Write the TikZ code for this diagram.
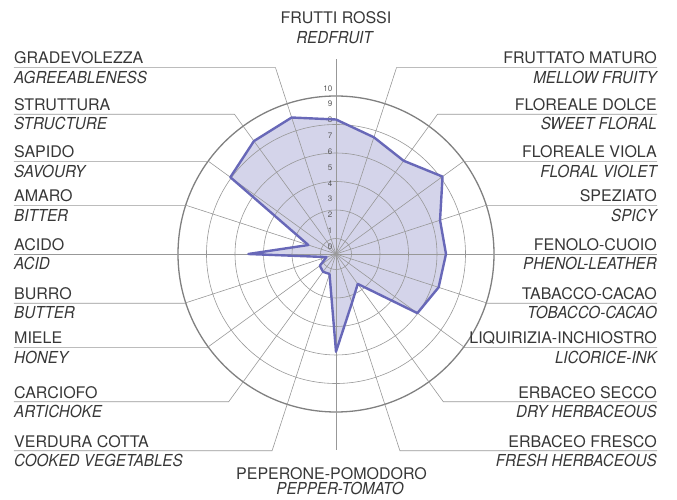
\documentclass[tikz,border=0pt]{standalone}
\usepackage{fontspec}
\setmainfont{TeX Gyre Heros}
\newfontfamily\engfont[FakeStretch=0.92]{TeX Gyre Heros}
\definecolor{gridgray}{RGB}{152,152,152}
\definecolor{rimgray}{RGB}{128,128,128}
\definecolor{labelgray}{RGB}{55,55,55}
\definecolor{plotline}{RGB}{104,104,184}
\definecolor{plotfill}{RGB}{212,212,234}
\begin{document}
\begin{tikzpicture}[x=1pt,y=1pt,
		grid/.style={gridgray, line width=0.6pt},
		rim/.style={rimgray, line width=1.3pt},
		ita/.style={labelgray, inner sep=0pt, font=\fontsize{16}{16}\selectfont},
		eng/.style={labelgray, inner sep=0pt, font=\fontsize{16.5}{16.5}\selectfont\engfont\itshape},
		tick/.style={black!65, inner sep=0pt, anchor=east, font=\fontsize{8}{8}\selectfont}]
		\useasboundingbox (-336,-246) rectangle (341,254);
		% profile area
		\fill [plotfill] (90:134.5) -- (72:122.7) -- (54:115.2) -- (36:131.7) -- (18:109.4) -- (0:110)
			-- (-18:107.9) -- (-36:100.6) -- (-54:37) -- (-72:51.5) -- (-90:97.7) -- (-108:21)
			-- (-126:22) -- (-144:20) -- (-162:10) -- (180:87.7) -- (162:29.1) -- (144:130.6)
			-- (126:139.6) -- (108:143.5) -- cycle;
		% rings
		\foreach \r in {15.5,44,72.5,101,129.5}
			\draw [grid] (0,0) circle (\r pt);
		\draw [rim] (0,0) circle (158pt);
		% spokes and leaders, right
		\draw [grid] (0,0) -- (0,195);
		\draw [grid] (0,0) -- (60.5,186.3) -- (321,186.3);
		\draw [grid] (0,0) -- (101.5,139.7) -- (321,139.7);
		\draw [grid] (0,0) -- (127.0,92.3) -- (321,92.3);
		\draw [grid] (0,0) -- (148.7,48.3) -- (321,48.3);
		\draw [grid] (0,0) -- (321,0);
		\draw [grid] (0,0) -- (151.7,-49.3) -- (321,-49.3);
		\draw [grid] (0,0) -- (129.0,-93.7) -- (321,-93.7);
		\draw [grid] (0,0) -- (107.3,-147.7) -- (321,-147.7);
		\draw [grid] (0,0) -- (63.9,-196.7) -- (321,-196.7);
		\draw [grid] (0,0) -- (0,-196);
		% spokes and leaders, left
		\draw [grid] (0,0) -- (-60.5,186.3) -- (-322,186.3);
		\draw [grid] (0,0) -- (-101.5,139.7) -- (-322,139.7);
		\draw [grid] (0,0) -- (-127.0,92.3) -- (-322,92.3);
		\draw [grid] (0,0) -- (-148.7,48.3) -- (-322,48.3);
		\draw [grid] (0,0) -- (-322,0);
		\draw [grid] (0,0) -- (-151.7,-49.3) -- (-322,-49.3);
		\draw [grid] (0,0) -- (-129.0,-93.7) -- (-322,-93.7);
		\draw [grid] (0,0) -- (-107.3,-147.7) -- (-322,-147.7);
		\draw [grid] (0,0) -- (-63.9,-196.7) -- (-322,-196.7);
		% scale
		\foreach \v in {0,...,10}
			\node [tick] (tick\v) at (-3.5,{7.3+15.84*\v}) {\v};
		% profile outline
		\draw [plotline, line width=2.4pt, line join=round] (90:134.5) -- (72:122.7) -- (54:115.2)
			-- (36:131.7) -- (18:109.4) -- (0:110) -- (-18:107.9) -- (-36:100.6) -- (-54:37)
			-- (-72:51.5) -- (-90:97.7) -- (-108:21) -- (-126:22) -- (-144:20) -- (-162:10)
			-- (180:87.7) -- (162:29.1) -- (144:130.6) -- (126:139.6) -- (108:143.5) -- cycle;
		% top and bottom labels
		\node [ita, anchor=base] (rossi) at (0,230) {FRUTTI ROSSI};
		\node [eng, anchor=base] (redfruit) at (-1.5,210.7) {REDFRUIT};
		\node [ita, anchor=base] (peperone) at (-4.5,-225) {PEPERONE-POMODORO};
		\node [eng, anchor=base] (pepper) at (4,-240) {PEPPER-TOMATO};
		% right labels
		\node [ita, anchor=base east] (maturo) at (321,190.0) {FRUTTATO MATURO};
		\node [eng, anchor=base east] (mellow) at (321,170.6) {MELLOW FRUITY};
		\node [ita, anchor=base east] (dolce) at (321,143.4) {FLOREALE DOLCE};
		\node [eng, anchor=base east] (sweet) at (321,124.0) {SWEET FLORAL};
		\node [ita, anchor=base east] (viola) at (321,96.0) {FLOREALE VIOLA};
		\node [eng, anchor=base east] (violet) at (321,76.6) {FLORAL VIOLET};
		\node [ita, anchor=base east] (speziato) at (321,52.0) {SPEZIATO};
		\node [eng, anchor=base east] (spicy) at (321,32.6) {SPICY};
		\node [ita, anchor=base east] (fenolo) at (321,3.7) {FENOLO-CUOIO};
		\node [eng, anchor=base east] (phenol) at (321,-15.7) {PHENOL-LEATHER};
		\node [ita, anchor=base east] (tabacco) at (321,-45.6) {TABACCO-CACAO};
		\node [eng, anchor=base east] (tobacco) at (321,-65.0) {TOBACCO-CACAO};
		\node [ita, anchor=base east] (liquirizia) at (321,-90.0) {LIQUIRIZIA-INCHIOSTRO};
		\node [eng, anchor=base east] (licorice) at (321,-109.4) {LICORICE-INK};
		\node [ita, anchor=base east] (secco) at (321,-144.0) {ERBACEO SECCO};
		\node [eng, anchor=base east] (dryherb) at (321,-163.4) {DRY HERBACEOUS};
		\node [ita, anchor=base east] (fresco) at (321,-193.0) {ERBACEO FRESCO};
		\node [eng, anchor=base east] (freshherb) at (321,-212.4) {FRESH HERBACEOUS};
		% left labels
		\node [ita, anchor=base west] (gradevolezza) at (-322,190.0) {GRADEVOLEZZA};
		\node [eng, anchor=base west] (agreeable) at (-322,170.6) {AGREEABLENESS};
		\node [ita, anchor=base west] (struttura) at (-322,143.4) {STRUTTURA};
		\node [eng, anchor=base west] (structure) at (-322,124.0) {STRUCTURE};
		\node [ita, anchor=base west] (sapido) at (-322,96.0) {SAPIDO};
		\node [eng, anchor=base west] (savoury) at (-322,76.6) {SAVOURY};
		\node [ita, anchor=base west] (amaro) at (-322,52.0) {AMARO};
		\node [eng, anchor=base west] (bitter) at (-322,32.6) {BITTER};
		\node [ita, anchor=base west] (acido) at (-322,3.7) {ACIDO};
		\node [eng, anchor=base west] (acid) at (-322,-15.7) {ACID};
		\node [ita, anchor=base west] (burro) at (-322,-45.6) {BURRO};
		\node [eng, anchor=base west] (butter) at (-322,-65.0) {BUTTER};
		\node [ita, anchor=base west] (miele) at (-322,-90.0) {MIELE};
		\node [eng, anchor=base west] (honey) at (-322,-109.4) {HONEY};
		\node [ita, anchor=base west] (carciofo) at (-322,-144.0) {CARCIOFO};
		\node [eng, anchor=base west] (artichoke) at (-322,-163.4) {ARTICHOKE};
		\node [ita, anchor=base west] (verdura) at (-322,-193.0) {VERDURA COTTA};
		\node [eng, anchor=base west] (cooked) at (-322,-212.4) {COOKED VEGETABLES};
\end{tikzpicture}
\end{document}
